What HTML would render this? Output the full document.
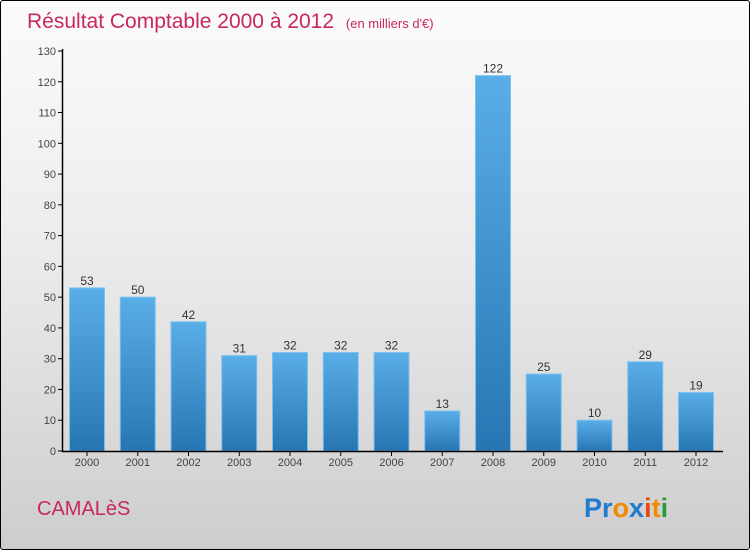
<!DOCTYPE html>
<html><head><meta charset="utf-8"><style>
body{margin:0}
#c{width:750px;height:550px;position:relative;overflow:hidden;box-sizing:border-box;border:1px solid #000;border-radius:3px;background:linear-gradient(#fbfbfb 0%,#ececec 45%,#cdcdcd 100%);font-family:"Liberation Sans",sans-serif}
</style></head><body>
<div id="c">
<svg width="750" height="550" style="position:absolute;left:0;top:0" id="s">
<defs><linearGradient id="g" x1="0" y1="0" x2="0" y2="1"><stop offset="0" stop-color="#5aaee8"/><stop offset="1" stop-color="#2776b3"/></linearGradient></defs>
<text x="26" y="27" font-size="21" fill="#c8285a">Résultat Comptable 2000 à 2012 <tspan font-size="13" dx="6">(en milliers d'€)</tspan></text>
<text x="36" y="514" font-size="20" fill="#c8285a">CAMALèS</text>
<text x="583" y="516" font-size="27" font-weight="bold"><tspan fill="#1f7bd0">Pr</tspan><tspan fill="#f08a00">o</tspan><tspan fill="#1f7bd0">x</tspan><tspan fill="#e84a10">i</tspan><tspan fill="#f08a00">t</tspan><tspan fill="#2a9a3a">i</tspan></text>
<g id="plot"></g>
</svg>
</div>
<script>
const years=["2000","2001","2002","2003","2004","2005","2006","2007","2008","2009","2010","2011","2012"];
const values=[53,50,42,31,32,32,32,13,122,25,10,29,19];
const yTicks=[0,10,20,30,40,50,60,70,80,90,100,110,120,130];
const NS="http://www.w3.org/2000/svg";
const g=document.getElementById('plot');
const y=v=>450-v*400/130;
const x=i=>86+i*50.75;
function mk(t,a){const e=document.createElementNS(NS,t);for(const k in a)e.setAttribute(k,a[k]);g.appendChild(e);return e;}
yTicks.forEach(t=>{
  const l=mk('line',{x1:57,x2:62,y1:y(t),y2:y(t),stroke:'#000'});
  
  
  const tx=mk('text',{x:55,y:y(t)+4,'font-size':11,fill:'#444','text-anchor':'end'});tx.textContent=t;
  
  
});
values.forEach((v,i)=>{
  const r=mk('rect',{x:x(i)-17.5,y:y(v),width:35,height:450-y(v),fill:'url(#g)',stroke:'#7cc0f0','stroke-width':1});
  
  
  const vl=mk('text',{x:x(i),y:y(v)-3,'font-size':12,fill:'#333','text-anchor':'middle'});vl.textContent=v;
  
  
  const tk=mk('line',{x1:x(i),x2:x(i),y1:450,y2:455,stroke:'#000'});
  
  
  const xl=mk('text',{x:x(i),y:465,'font-size':11,fill:'#444','text-anchor':'middle'});xl.textContent=years[i];
  
  
});
const ya=mk('line',{x1:61.5,x2:61.5,y1:48,y2:451,stroke:'#000','stroke-width':1.5});


const xa=mk('line',{x1:61,x2:722,y1:450.5,y2:450.5,stroke:'#000','stroke-width':1.5});


</script>
</body></html>
